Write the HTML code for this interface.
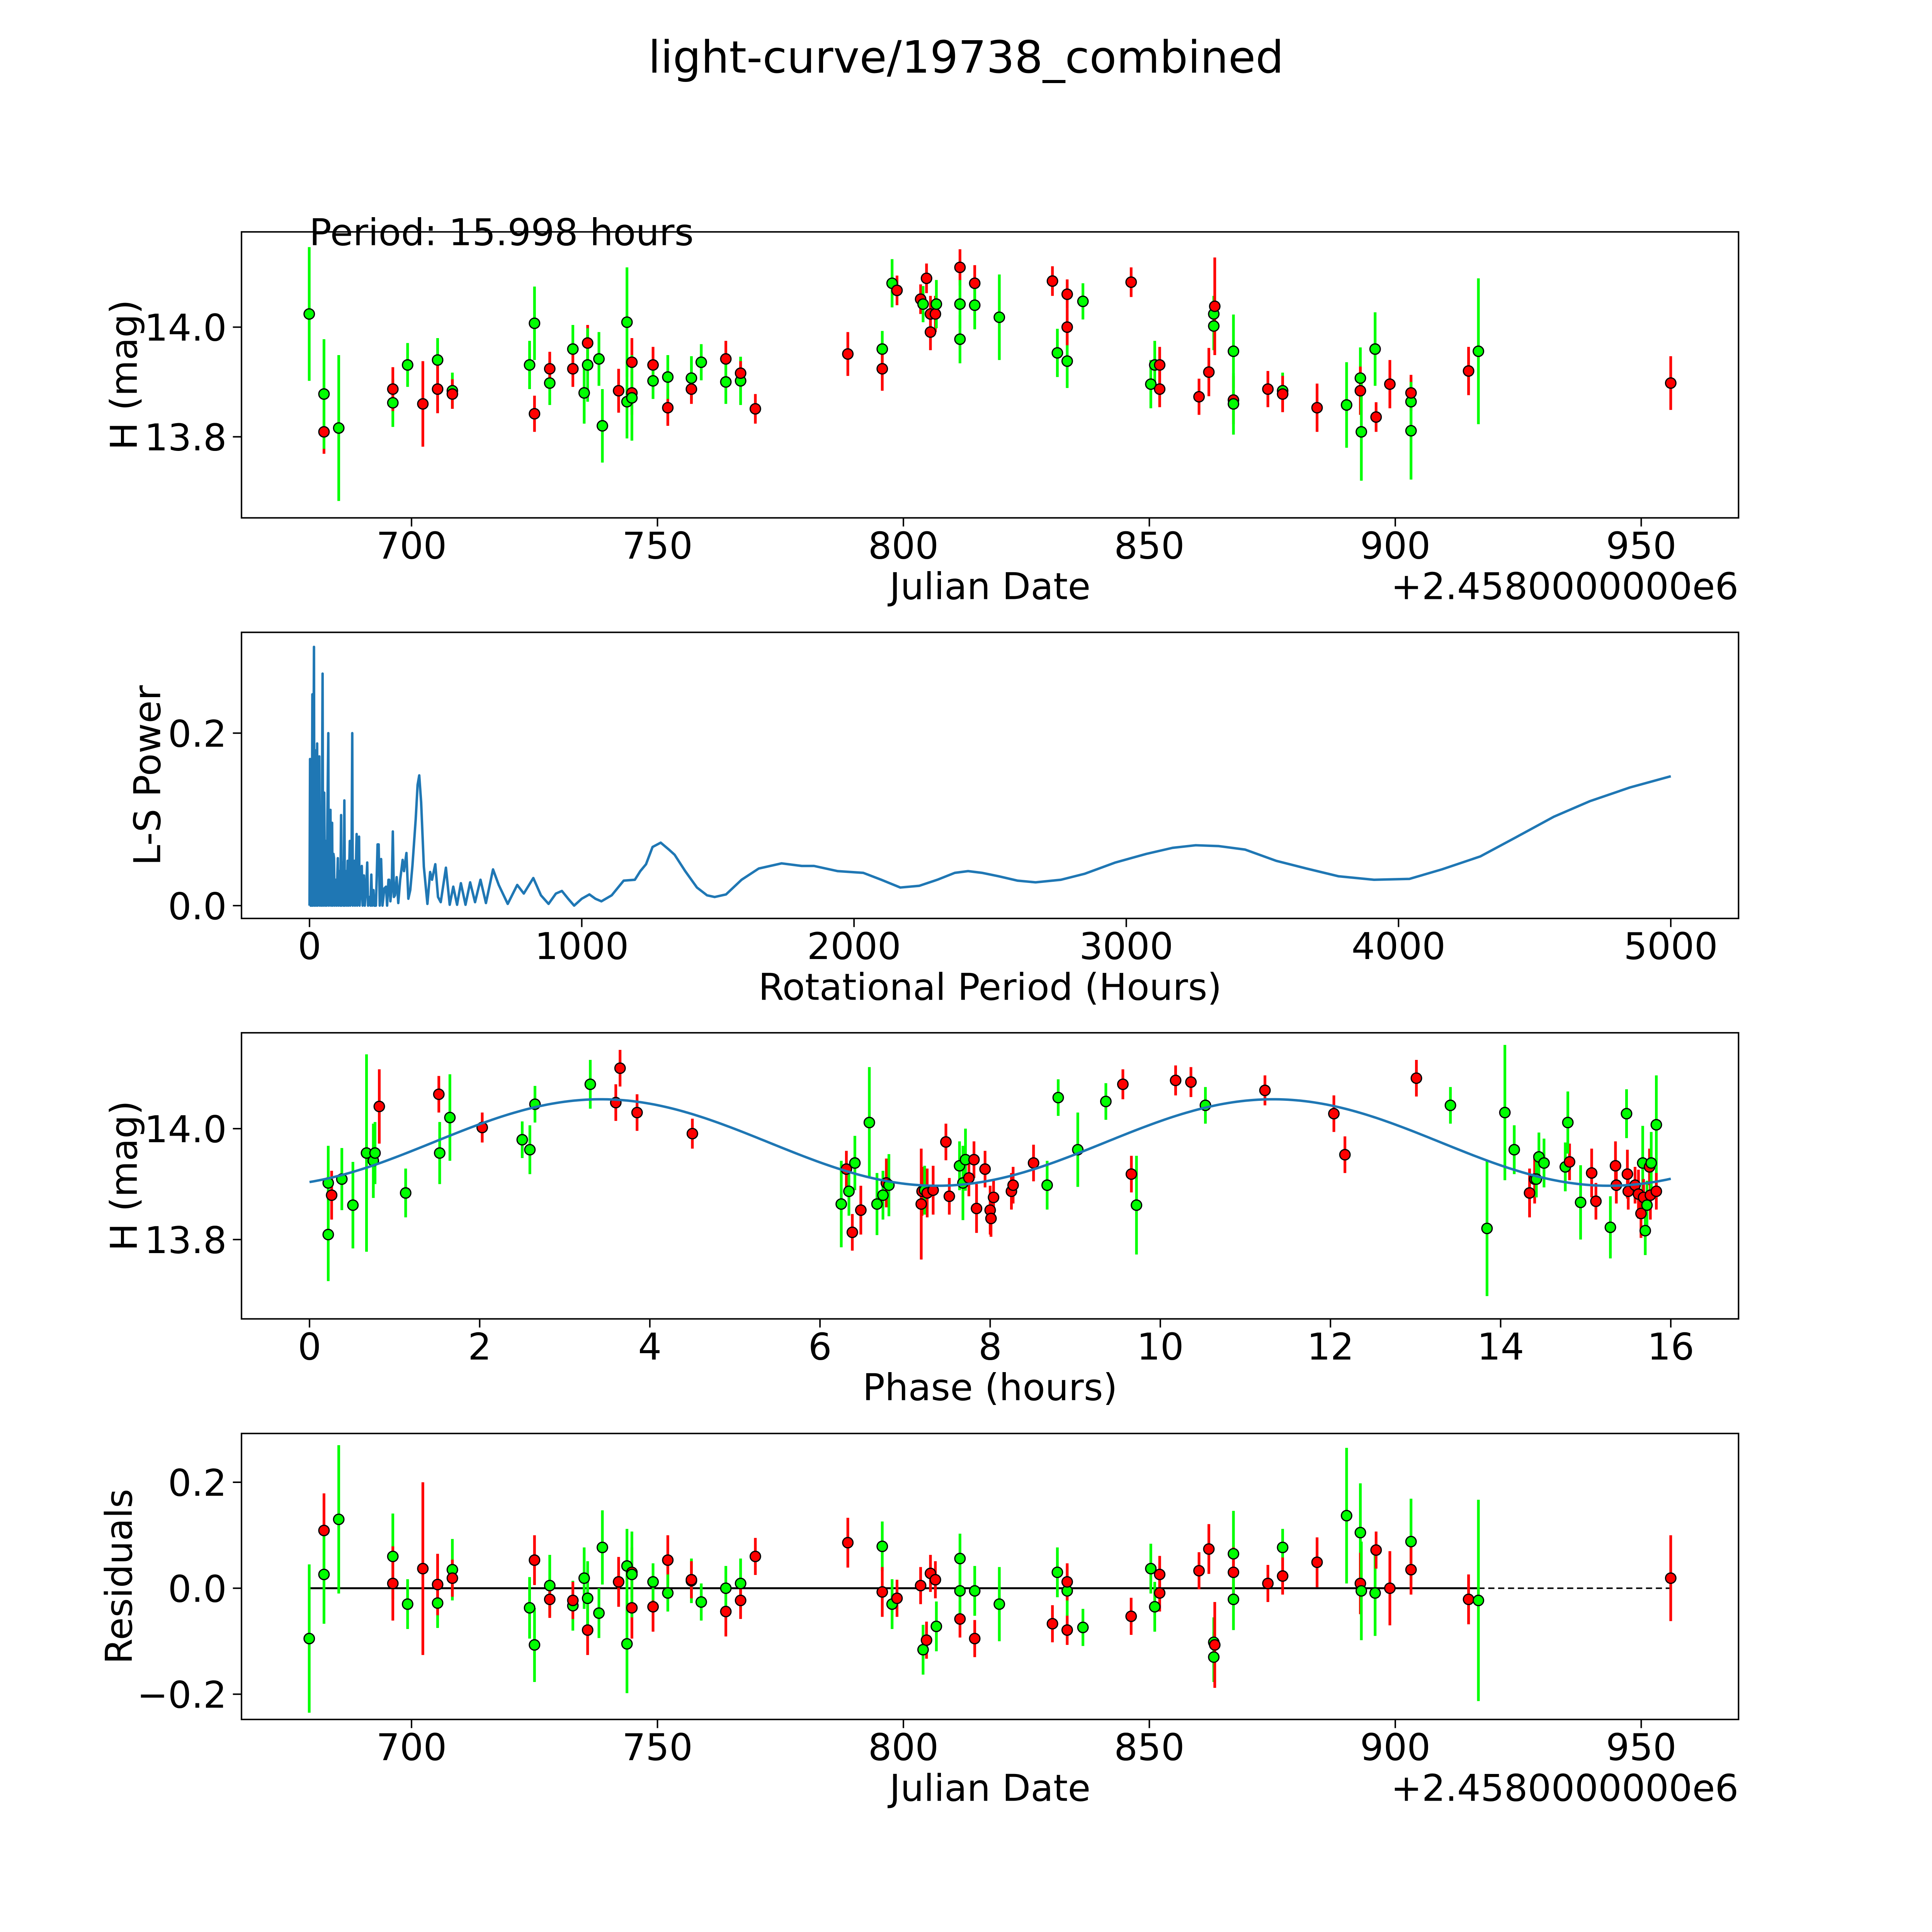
<!DOCTYPE html>
<html><head><meta charset="utf-8"><title>light-curve/19738_combined</title>
<style>
html,body{margin:0;padding:0;background:#fff;width:100%;height:100%;overflow:hidden;}
svg{display:block;position:absolute;left:0;top:0;width:100vw;height:100vh;}
text{font-family:"DejaVu Sans","Liberation Sans",sans-serif;fill:#000;}
</style></head>
<body>
<svg id="fig" xmlns="http://www.w3.org/2000/svg" viewBox="0 0 1568 1568" preserveAspectRatio="none">
<rect x="0" y="0" width="1568" height="1568" fill="#fff"/>
<text x="784" y="59" font-size="36" text-anchor="middle">light-curve/19738_combined</text>
</svg>
<script>
// ---------- Panel 1: observations ----------
const obsDate=[679.2,682.2,682.2,685.2,696.2,696.2,699.2,702.3,705.3,705.3,708.3,708.3,724.0,725.0,725.0,728.1,728.1,732.8,732.8,735.1,735.8,735.8,738.1,738.8,742.1,743.8,743.8,744.8,744.8,744.8,749.1,749.1,752.1,752.1,756.9,756.9,758.9,763.9,763.9,766.9,766.9,769.9,788.7,795.7,795.7,797.7,798.7,803.5,804.0,804.7,805.5,805.5,806.5,806.7,811.5,811.5,811.5,814.5,814.5,819.5,830.3,831.3,833.3,833.3,833.3,836.5,846.3,850.3,851.1,852.1,852.1,860.1,862.1,863.1,863.1,863.3,867.1,867.1,867.1,874.1,877.1,877.1,884.1,890.1,892.9,892.9,893.1,895.9,896.1,898.9,903.2,903.2,903.2,914.9,916.9,956.0];
const obsMag=[14.024,13.809,13.878,13.816,13.862,13.887,13.931,13.860,13.940,13.887,13.884,13.878,13.931,13.842,14.007,13.898,13.924,13.960,13.924,13.880,13.971,13.931,13.942,13.820,13.884,14.009,13.864,13.936,13.880,13.871,13.931,13.902,13.853,13.909,13.907,13.887,13.936,13.942,13.900,13.902,13.916,13.851,13.951,13.960,13.924,14.080,14.067,14.051,14.042,14.089,14.024,13.991,14.024,14.042,14.109,14.042,13.978,14.080,14.040,14.018,14.084,13.953,14.060,13.938,14.000,14.047,14.082,13.896,13.931,13.931,13.887,13.873,13.918,14.024,14.002,14.038,13.956,13.867,13.860,13.887,13.884,13.878,13.853,13.858,13.907,13.884,13.809,13.960,13.836,13.896,13.864,13.880,13.811,13.920,13.956,13.898];
const obsErr=[0.122,0.040,0.100,0.133,0.044,0.040,0.040,0.078,0.040,0.044,0.033,0.027,0.044,0.033,0.067,0.040,0.031,0.044,0.033,0.056,0.033,0.067,0.049,0.067,0.040,0.100,0.067,0.044,0.040,0.078,0.033,0.033,0.033,0.040,0.040,0.027,0.033,0.033,0.040,0.044,0.022,0.027,0.040,0.033,0.040,0.044,0.027,0.027,0.033,0.027,0.033,0.033,0.033,0.044,0.033,0.044,0.044,0.033,0.044,0.078,0.027,0.044,0.027,0.049,0.033,0.033,0.027,0.044,0.044,0.033,0.033,0.033,0.044,0.033,0.044,0.089,0.067,0.044,0.056,0.033,0.033,0.033,0.044,0.078,0.056,0.044,0.089,0.067,0.027,0.044,0.044,0.033,0.089,0.044,0.133,0.049];
const obsBand=['g','r','g','g','g','r','g','r','g','r','g','r','g','r','g','g','r','g','r','g','r','g','g','g','r','g','g','r','r','g','r','g','r','g','g','r','g','r','g','g','r','r','r','g','r','g','r','r','g','r','r','r','r','g','r','g','g','r','g','g','r','g','r','g','r','g','r','g','g','r','r','r','r','g','g','r','g','r','g','r','g','r','r','g','g','r','g','g','r','r','g','r','g','r','g','r'];

// ---------- Panel 2: periodogram ----------
const lsPeriod=[0,2,4,6,8,10.5,12,14,16.4,18,20,22,24,26,28,30,33,36,38,41,44,48,50,54,57,60,63,66,69,71,74,77,79,83,85,88,90,92,96,99,104,106,110,113,116,118,122,125,128,130,134,137,140,143,148,150,154,157,159,162,165,167,170,173,175,178,182,184,188,192,195,200,203,208,212,215,220,224,227,230,235,238,244,250,254,258,263,268,275,281,285,290,293,297,302,306,310,314,320,326,333,342,347,356,363,370,378,390,397,403,410,420,433,443,450,462,472,482,501,515,528,542,556,573,590,608,628,648,674,695,728,763,787,822,850,878,905,927,950,972,1000,1028,1050,1072,1110,1154,1195,1215,1236,1260,1290,1320,1341,1380,1423,1460,1488,1530,1587,1650,1734,1808,1853,1940,2034,2100,2170,2240,2306,2370,2419,2470,2532,2600,2667,2760,2848,2960,3074,3170,3255,3340,3436,3550,3662,3780,3910,4040,4159,4300,4430,4570,4702,4850,5000];
const lsPower=[0,0.17,0,0.165,0,0.245,0,0.12,0.300,0,0.17,0.18,0,0.12,0.188,0,0.17,0.173,0,0.08,0,0.269,0,0.131,0,0.075,0,0.11,0.2,0,0.08,0.111,0,0.096,0,0.06,0.055,0,0.03,0,0.055,0,0.04,0,0.105,0,0.05,0,0.122,0,0.04,0,0.052,0,0.075,0,0.03,0.2,0,0.04,0.052,0,0.04,0.083,0,0.03,0.08,0,0.02,0.046,0,0.035,0,0.02,0.05,0,0.01,0,0.036,0,0.018,0,0,0.071,0.071,0,0.054,0,0.02,0.022,0,0.03,0.03,0.005,0.02,0.086,0.01,0.012,0.033,0.003,0.03,0.053,0.04,0.061,0.008,0.018,0.046,0.1,0.14,0.151,0.12,0.045,0.002,0.039,0.03,0.048,0.01,0.004,0.044,0.001,0.022,0.001,0.026,0.001,0.027,0.004,0.030,0.003,0.042,0.024,0.002,0.024,0.014,0.032,0.012,0.002,0.014,0.017,0.008,0,0.008,0.013,0.008,0.005,0.012,0.029,0.030,0.04,0.048,0.068,0.073,0.065,0.059,0.04,0.021,0.012,0.010,0.013,0.030,0.043,0.049,0.046,0.046,0.040,0.038,0.030,0.021,0.023,0.030,0.038,0.040,0.038,0.034,0.029,0.027,0.030,0.037,0.050,0.060,0.067,0.070,0.069,0.065,0.052,0.043,0.034,0.030,0.031,0.042,0.057,0.079,0.103,0.121,0.137,0.150];

// ---------- Panel 3: phased ----------
const phaseT=[0.22,0.22,0.26,0.38,0.51,0.67,0.75,0.77,0.82,1.13,1.52,1.53,1.65,2.03,2.5,2.59,2.65,3.3,3.6,3.65,3.85,4.5,6.25,6.31,6.34,6.41,6.38,6.48,6.58,6.67,6.74,6.78,6.81,7.19,7.2,7.23,7.26,7.33,7.48,7.52,7.64,7.68,7.71,7.75,7.81,7.84,7.94,8.0,8.01,8.04,8.25,8.27,8.51,8.67,8.8,9.03,9.36,9.56,9.66,9.72,10.18,10.36,10.53,11.23,12.04,12.17,13.01,13.41,13.84,14.05,14.16,14.34,14.4,14.42,14.45,14.51,14.76,14.81,14.79,14.94,15.07,15.12,15.29,15.35,15.36,15.48,15.49,15.5,15.58,15.62,15.65,15.67,15.68,15.7,15.72,15.75,15.76,15.77,15.83,15.83];
const phaseMag=[13.902,13.809,13.88,13.909,13.862,13.956,13.942,13.956,14.04,13.884,14.062,13.956,14.02,14.002,13.98,13.962,14.044,14.08,14.047,14.109,14.029,13.991,13.864,13.927,13.887,13.938,13.813,13.853,14.011,13.864,13.88,13.902,13.898,13.864,13.887,13.889,13.884,13.889,13.976,13.878,13.933,13.902,13.944,13.911,13.944,13.856,13.927,13.853,13.838,13.876,13.887,13.898,13.938,13.898,14.056,13.962,14.049,14.08,13.918,13.862,14.087,14.084,14.042,14.069,14.027,13.953,14.091,14.042,13.82,14.029,13.962,13.884,13.909,13.909,13.949,13.938,13.931,13.94,14.011,13.867,13.92,13.869,13.822,13.933,13.898,14.027,13.918,13.887,13.898,13.882,13.847,13.938,13.876,13.816,13.862,13.931,13.88,13.938,14.007,13.887];
const phaseErr=[0.067,0.084,0.044,0.056,0.078,0.178,0.067,0.056,0.067,0.044,0.033,0.056,0.078,0.027,0.033,0.044,0.033,0.044,0.033,0.033,0.033,0.027,0.078,0.033,0.044,0.049,0.033,0.044,0.1,0.056,0.044,0.044,0.056,0.1,0.044,0.044,0.044,0.044,0.033,0.033,0.044,0.067,0.056,0.033,0.033,0.044,0.033,0.044,0.033,0.033,0.033,0.033,0.033,0.044,0.033,0.067,0.033,0.027,0.033,0.089,0.027,0.027,0.033,0.027,0.033,0.033,0.033,0.033,0.122,0.122,0.044,0.044,0.044,0.033,0.044,0.044,0.044,0.033,0.056,0.067,0.044,0.033,0.056,0.044,0.033,0.044,0.044,0.033,0.033,0.044,0.044,0.067,0.033,0.044,0.044,0.033,0.044,0.056,0.089,0.033];
const phaseBand=['g','g','r','g','g','g','g','g','r','g','r','g','g','r','g','g','g','g','r','r','r','r','g','r','g','g','r','r','g','g','g','r','g','r','r','g','r','r','r','r','g','g','g','r','r','r','r','r','r','r','r','r','r','g','g','g','g','r','r','g','r','r','g','r','r','r','r','g','g','g','g','r','r','g','g','g','g','r','g','g','r','r','g','r','r','g','r','r','r','r','r','g','r','g','g','r','r','g','g','r'];
const fitMean=[13.975];
const fitAmp=[0.078];
const fitHalfPeriod=[7.9];
const fitOffset=[1.45];

// ---------- Panel 4: residuals ----------
const resDate=[679.2,682.2,682.2,685.2,696.2,696.2,699.2,702.3,705.3,705.3,708.3,708.3,724.0,725.0,725.0,728.1,728.1,732.8,732.8,735.1,735.8,735.8,738.1,738.8,742.1,743.8,743.8,744.8,744.8,744.8,749.1,749.1,752.1,752.1,756.9,756.9,758.9,763.9,763.9,766.9,766.9,769.9,788.7,795.7,795.7,797.7,798.7,803.5,804.0,804.7,805.5,806.5,806.7,811.5,811.5,811.5,814.5,814.5,819.5,830.3,831.3,833.3,833.3,833.3,836.5,846.3,850.3,851.1,852.1,852.1,860.1,862.1,863.1,863.1,863.3,867.1,867.1,867.1,874.1,877.1,877.1,884.1,890.1,892.9,892.9,893.1,895.9,896.1,898.9,903.2,903.2,914.9,916.9,956.0];
const resVal=[-0.095,0.109,0.026,0.130,0.060,0.009,-0.030,0.037,-0.028,0.007,0.035,0.019,-0.037,0.053,-0.107,0.005,-0.021,-0.033,-0.023,0.019,-0.079,-0.019,-0.047,0.077,0.012,-0.105,0.042,-0.037,0.030,0.026,-0.035,0.012,0.053,-0.009,0.014,0.016,-0.026,-0.044,0.000,0.009,-0.023,0.060,0.086,0.079,-0.007,-0.030,-0.019,0.005,-0.116,-0.098,0.028,0.016,-0.072,-0.058,0.056,-0.005,-0.095,-0.005,-0.030,-0.067,0.030,-0.079,-0.005,0.012,-0.074,-0.053,0.037,-0.035,0.026,-0.009,0.033,0.074,-0.130,-0.102,-0.107,0.065,0.030,-0.021,0.009,0.077,0.023,0.049,0.137,0.105,0.009,-0.005,-0.009,0.072,0.000,0.088,0.035,-0.021,-0.023,0.019];
const resErr=[0.14,0.07,0.093,0.14,0.081,0.07,0.047,0.163,0.047,0.058,0.058,0.035,0.058,0.047,0.07,0.058,0.035,0.047,0.035,0.058,0.047,0.07,0.047,0.07,0.047,0.093,0.07,0.058,0.047,0.081,0.047,0.035,0.047,0.035,0.042,0.035,0.035,0.047,0.042,0.047,0.035,0.035,0.047,0.047,0.047,0.047,0.035,0.035,0.047,0.035,0.035,0.035,0.047,0.035,0.047,0.047,0.035,0.047,0.07,0.035,0.047,0.028,0.047,0.035,0.035,0.035,0.047,0.047,0.035,0.035,0.035,0.047,0.047,0.047,0.081,0.081,0.047,0.058,0.035,0.035,0.035,0.047,0.128,0.093,0.058,0.093,0.081,0.035,0.07,0.081,0.047,0.047,0.19,0.081];
const resBand=['g','r','g','g','g','r','g','r','g','r','g','r','g','r','g','g','r','g','r','g','r','g','g','g','r','g','g','r','r','g','r','g','r','g','g','r','g','r','g','g','r','r','r','g','r','g','r','r','g','r','r','r','g','r','g','g','r','g','g','r','g','r','g','r','g','r','g','g','r','r','r','r','g','g','r','g','r','g','r','g','r','r','g','g','r','g','g','r','r','g','r','r','g','r'];

// ---------- Ticks ----------
const dateTicks=[700,750,800,850,900,950];
const magTicks=[13.8,14.0];
const lsXTicks=[0,1000,2000,3000,4000,5000];
const lsYTicks=[0.0,0.2];
const phaseXTicks=[0,2,4,6,8,10,12,14,16];
const resYTicks=[-0.2,0.0,0.2];

const NS='http://www.w3.org/2000/svg';
const svg=document.getElementById('fig');
const L=196, R=1411;
const COL={g:'#00ff00', r:'#ff0000'};

function mk(tag, attrs, parent){
  const e=document.createElementNS(NS,tag);
  for(const k in attrs) e.setAttribute(k, attrs[k]);
  (parent||svg).appendChild(e);
  return e;
}
function linScale(d0,d1,p0,p1){return v=>p0+(v-d0)*(p1-p0)/(d1-d0);}

function makePanel(name, top, bottom, xs, ys, xt, yt, xfmt, yfmt, xlabel, ylabel, ylabelX, offsetText){
  const g=mk('g',{});
  
  
  const marks=mk('g',{},g);
  
  
  const ax=mk('g',{},g);
  
  
  const frame=mk('rect',{x:L,y:top,width:R-L,height:bottom-top,fill:'none',stroke:'#000','stroke-width':1.2},ax);
  
  
  xt.forEach(v=>{
    const x=xs(v);
    const t=mk('line',{x1:x,x2:x,y1:bottom,y2:bottom+7,stroke:'#000','stroke-width':1.2},ax);
    
    
    const tl=mk('text',{x:x,y:bottom+33,'font-size':30,'text-anchor':'middle'},ax);
    
    
    tl.textContent=xfmt(v);
  });
  yt.forEach(v=>{
    const y=ys(v);
    const t=mk('line',{x1:L-7,x2:L,y1:y,y2:y,stroke:'#000','stroke-width':1.2},ax);
    
    
    const tl=mk('text',{x:L-12,y:y+11,'font-size':30,'text-anchor':'end'},ax);
    
    
    tl.textContent=yfmt(v);
  });
  const xl=mk('text',{x:(L+R)/2,y:bottom+66,'font-size':30,'text-anchor':'middle'},ax);
  
  
  xl.textContent=xlabel;
  const cy=(top+bottom)/2;
  const yl=mk('text',{x:ylabelX,y:cy,'font-size':30,'text-anchor':'middle',transform:'rotate(-90 '+ylabelX+' '+cy+')'},ax);
  
  
  yl.textContent=ylabel;
  if(offsetText){
    const ot=mk('text',{x:R,y:bottom+66,'font-size':30,'text-anchor':'end'},ax);
    
    
    ot.textContent=offsetText;
  }
  return marks;
}

function drawErrPoints(marks, xsArr, ysArr, errArr, band, xs, ys){
  for(let i=0;i<xsArr.length;i++){
    const x=xs(xsArr[i]);
    const b=mk('line',{x1:x,x2:x,y1:ys(ysArr[i]-errArr[i]),y2:ys(ysArr[i]+errArr[i]),stroke:COL[band[i]],'stroke-width':2.2},marks);
    
    
  }
  for(let i=0;i<xsArr.length;i++){
    const c=mk('circle',{cx:xs(xsArr[i]),cy:ys(ysArr[i]),r:4.2,fill:COL[band[i]],stroke:'#000','stroke-width':1},marks);
    
    
  }
}

const fmt1=v=>v.toFixed(1).replace('-','\u2212');
const fmt0=v=>String(v);

// Panel 1
const xDate1=linScale(700,950,334,1332);
const yMag1=linScale(13.8,14.0,354.5,265.5);
const m1=makePanel('light-curve-panel',188.2,420.3,xDate1,yMag1,dateTicks,magTicks,fmt0,fmt1,'Julian Date','H (mag)',111,'+2.4580000000e6');
drawErrPoints(m1,obsDate,obsMag,obsErr,obsBand,xDate1,yMag1);
const pt=mk('text',{x:251,y:199,'font-size':30});


pt.textContent='Period: 15.998 hours';

// Panel 2
const xLS=linScale(0,5000,251.2,1356);
const yLS=linScale(0,0.2,735,595);
const m2=makePanel('periodogram-panel',513.2,745.4,xLS,yLS,lsXTicks,lsYTicks,fmt0,fmt1,'Rotational Period (Hours)','L-S Power',130,null);
const pts=lsPeriod.map((p,i)=>xLS(p).toFixed(2)+','+yLS(lsPower[i]).toFixed(2)).join(' ');
const pl=mk('polyline',{points:pts,fill:'none',stroke:'#1f77b4','stroke-width':2,'stroke-linejoin':'round'},m2);



// Panel 3
const xPh=linScale(0,16,251.2,1356);
const yMag3=linScale(13.8,14.0,1006,916);
const m3=makePanel('phase-panel',838.2,1070.4,xPh,yMag3,phaseXTicks,magTicks,fmt0,fmt1,'Phase (hours)','H (mag)',111,null);
drawErrPoints(m3,phaseT,phaseMag,phaseErr,phaseBand,xPh,yMag3);
const fitPts=[];
for(let k=0;k<=320;k++){
  const t=16*k/320;
  const v=fitMean[0]+fitAmp[0]*Math.sin(2*Math.PI*(t-fitOffset[0])/fitHalfPeriod[0]);
  fitPts.push(xPh(t).toFixed(2)+','+yMag3(v).toFixed(2));
}
const fl=mk('polyline',{points:fitPts.join(' '),fill:'none',stroke:'#1f77b4','stroke-width':2},m3);



// Panel 4
const yRes=linScale(0,0.2,1289,1203);
const m4=makePanel('residuals-panel',1163.4,1395.5,xDate1,yRes,dateTicks,resYTicks,fmt0,fmt1,'Julian Date','Residuals',107,'+2.4580000000e6');
const firstD=resDate[0], lastSolid=resDate[resDate.length-2], lastD=resDate[resDate.length-1];
const z1=mk('line',{x1:xDate1(firstD),x2:xDate1(lastSolid),y1:yRes(0),y2:yRes(0),stroke:'#000','stroke-width':1.6},m4);


const z2=mk('line',{x1:xDate1(lastSolid),x2:xDate1(lastD),y1:yRes(0),y2:yRes(0),stroke:'#000','stroke-width':1.2,'stroke-dasharray':'5,3'},m4);


drawErrPoints(m4,resDate,resVal,resErr,resBand,xDate1,yRes);
</script>
</body></html>
